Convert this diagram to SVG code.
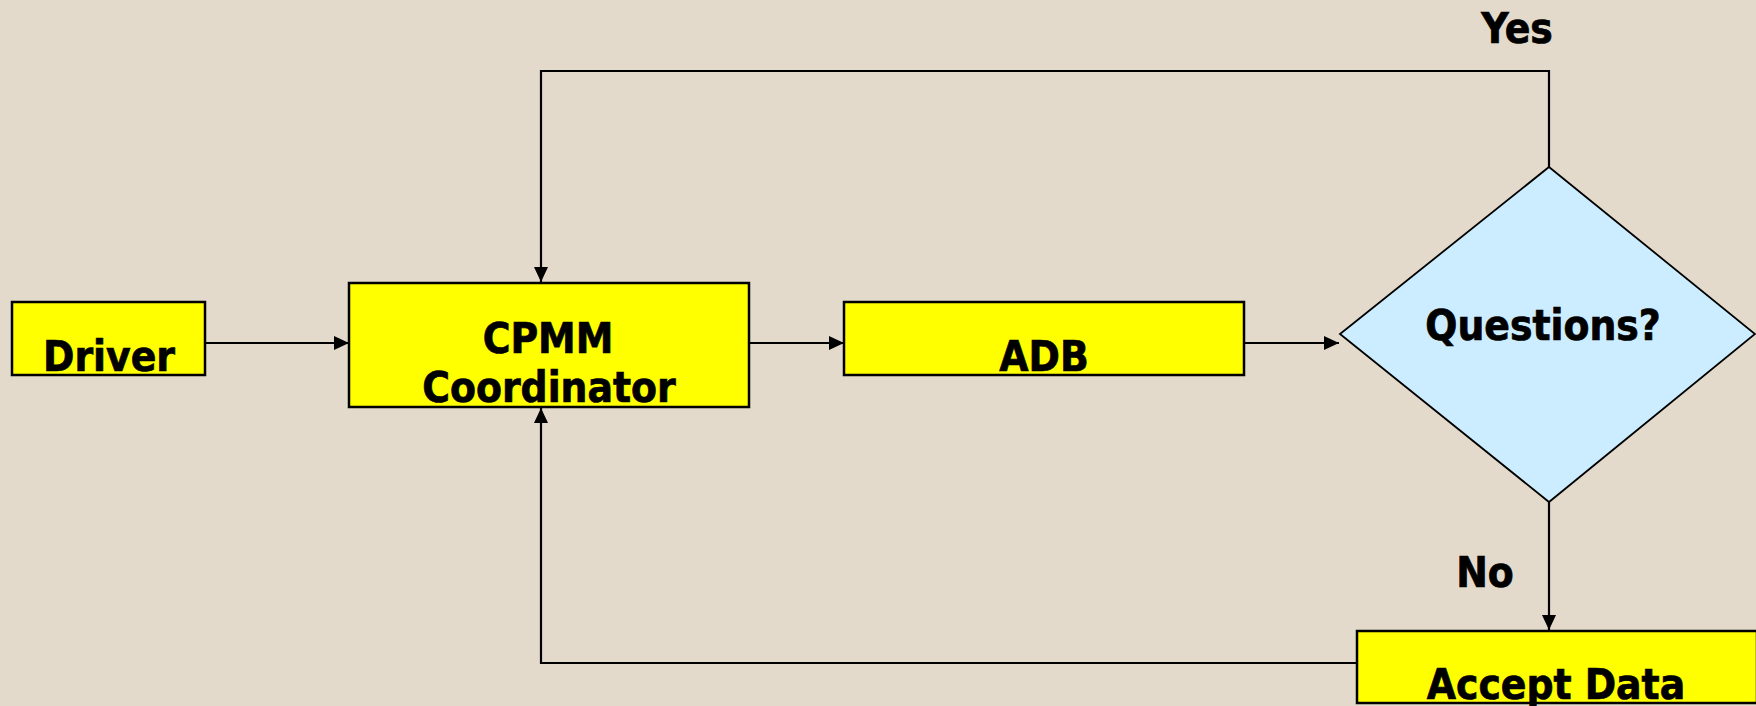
<svg xmlns="http://www.w3.org/2000/svg" width="1756" height="706" viewBox="0 0 1756 706">
<style>
.box{fill:#FFFF00;stroke:#000;stroke-width:2.5}
.dia{fill:#CCECFF;stroke:#000;stroke-width:1.8}
.lbl{font-family:"DejaVu Sans Condensed","DejaVu Sans",sans-serif;font-stretch:condensed;font-weight:bold;font-size:42px;fill:#000;stroke:#000;stroke-width:0.7;text-anchor:middle}
.conn{fill:none;stroke:#000;stroke-width:2.2}
</style>
<defs>
<marker id="arr" viewBox="0 0 15 14" refX="15" refY="7" markerWidth="15" markerHeight="14" markerUnits="userSpaceOnUse" orient="auto">
<path d="M0,0 L15,7 L0,14 Z" fill="#000"/>
</marker>
</defs>
<rect width="1756" height="706" fill="#E3DACB"/>
<g id="connectors">
<line class="conn" x1="205" y1="343" x2="349" y2="343" marker-end="url(#arr)"/>
<line class="conn" x1="749" y1="343" x2="844" y2="343" marker-end="url(#arr)"/>
<line class="conn" x1="1244" y1="343" x2="1339" y2="343" marker-end="url(#arr)"/>
<path class="conn" d="M1549,167 V71 H541 V282" marker-end="url(#arr)"/>
<path class="conn" d="M1549,502 V630" marker-end="url(#arr)"/>
<path class="conn" d="M1357,663 H541 V408" marker-end="url(#arr)"/>
<text class="lbl" x="1517" y="43">Yes</text>
<text class="lbl" x="1485" y="587">No</text>
</g>
<g id="driver">
<rect class="box" x="12" y="302" width="193" height="73"/>
<text class="lbl" x="109" y="371">Driver</text>
</g>
<g id="cpmm">
<rect class="box" x="349" y="283" width="400" height="124"/>
<text class="lbl" x="548" y="353">CPMM</text>
<text class="lbl" x="549" y="402">Coordinator</text>
</g>
<g id="adb">
<rect class="box" x="844" y="302" width="400" height="73"/>
<text class="lbl" x="1044" y="371">ADB</text>
</g>
<g id="questions">
<polygon class="dia" points="1549,167 1755,334 1549,502 1340,334"/>
<text class="lbl" x="1543" y="340">Questions?</text>
</g>
<g id="accept">
<rect class="box" x="1357" y="631" width="400" height="72"/>
<text class="lbl" x="1556" y="699">Accept Data</text>
</g>
</svg>
